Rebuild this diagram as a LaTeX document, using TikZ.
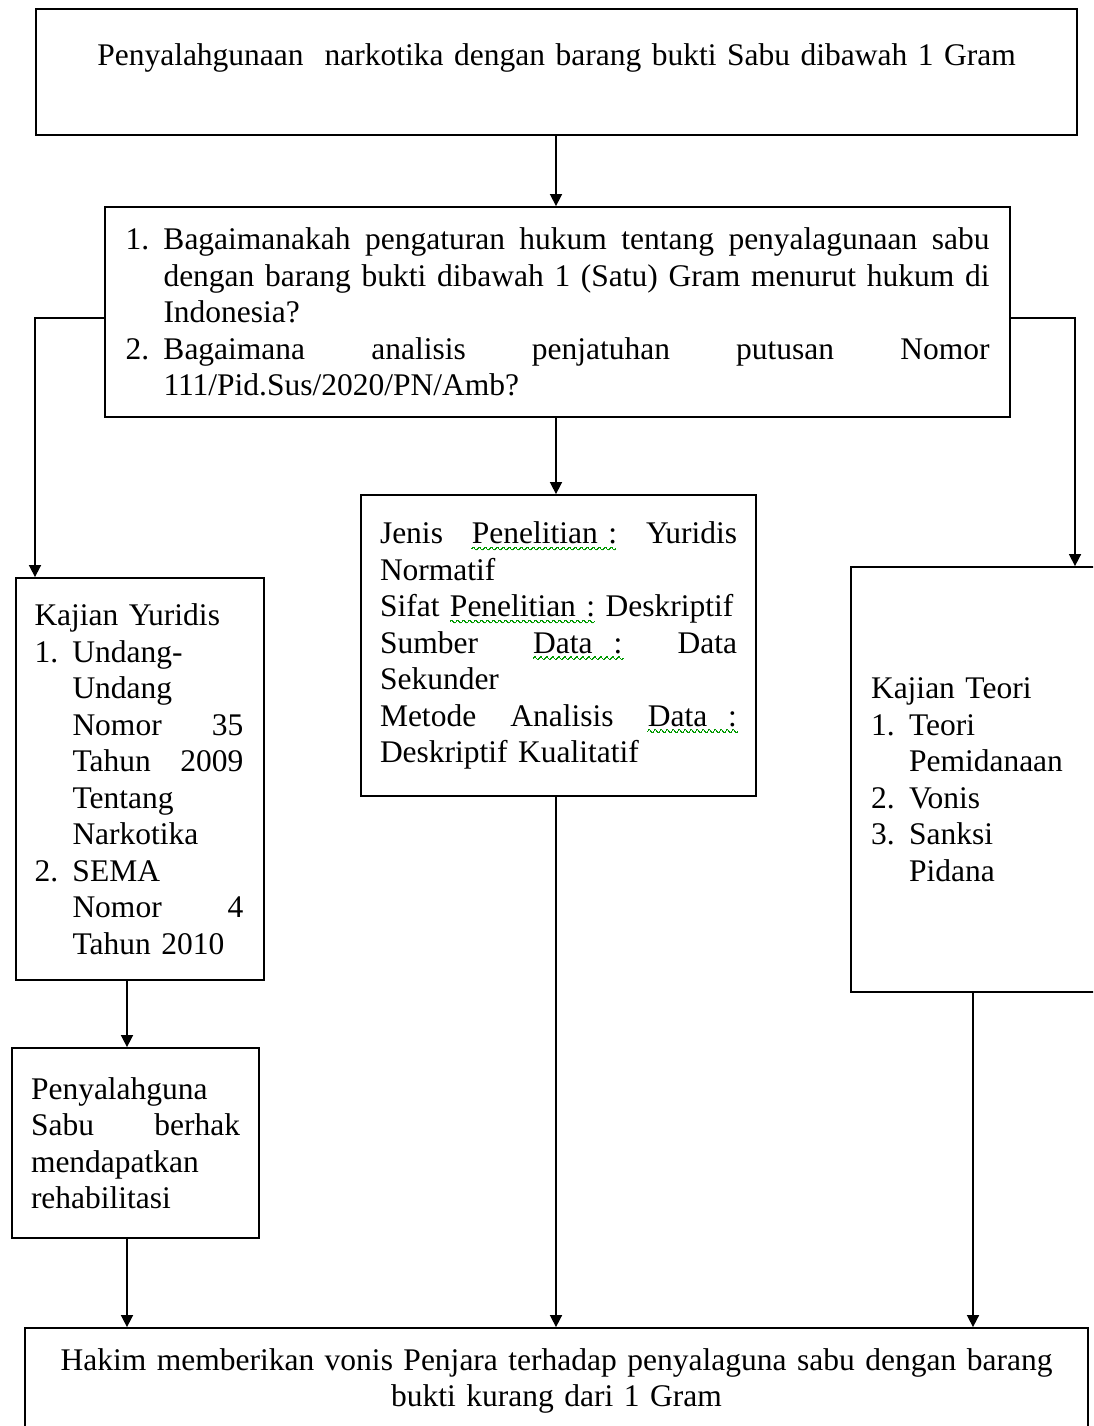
\documentclass[tikz,border=0pt]{standalone}
\usepackage{fontspec}
\setmainfont{Liberation Serif}
\usetikzlibrary{arrows.meta,calc}
\newcommand\gwave[1]{\setbox0=\hbox{#1}\leavevmode\rlap{\raisebox{-5pt}{\textcolor{green!60!black}{\setlength{\unitlength}{1pt}\linethickness{0.9pt}\begin{picture}(0,0)\multiput(0,0)(6,0){\numexpr\wd0/393216\relax}{\qbezier(0,0)(1.5,2.5)(3,0)\qbezier(3,0)(4.5,-2.5)(6,0)}\end{picture}}}}\box0\relax}
\newcommand\jl[2]{\leavevmode\hbox to #1{#2}}
\newcommand\hind{\hspace*{38pt}}
\newcommand\numb[1]{\makebox[38pt][l]{#1}}
\begin{document}
\begin{tikzpicture}[x=1pt,y=-1pt,
  box/.style={draw=black, line width=1.8pt, rectangle, inner ysep=0pt,
    font=\fontsize{31.5}{36.5}\selectfont, text=black},
  arr/.style={draw=black, line width=1.6pt, -{Triangle[width=12pt,length=12pt]}}]
\useasboundingbox (0,0) rectangle (1093,1426);
\clip (0,0) rectangle (1093,1426);
\fill[white] (0,0) rectangle (1093,1426);

\coordinate (xM) at (556,0);
\coordinate (xL) at (127,0);
\coordinate (xR) at (973,0);
\coordinate (xLL) at (35,0);
\coordinate (xRR) at (1075,0);
\coordinate (yq) at (0,318);

\node[box, minimum width=1041pt, minimum height=126pt, text width=1000pt, align=center]
  (top) at (556.5,72) {Penyalahgunaan\ \ narkotika dengan barang bukti Sabu dibawah 1 Gram\\[-12pt] \strut};

\node[box, minimum height=210pt, text width=864pt, inner xsep=20.5pt, align=left]
  (q) at (557.5,312) {%
  \numb{1.}\jl{826pt}{Bagaimanakah\hfill pengaturan\hfill hukum\hfill tentang\hfill penyalagunaan\hfill sabu}\\
  \hind\jl{826pt}{dengan\hfill barang\hfill bukti\hfill dibawah\hfill 1\hfill (Satu)\hfill Gram\hfill menurut\hfill hukum\hfill di}\\
  \hind Indonesia?\\
  \numb{2.}\jl{826pt}{Bagaimana\hfill analisis\hfill penjatuhan\hfill putusan\hfill Nomor}\\
  \hind 111/Pid.Sus/2020/PN/Amb?};

\node[box, minimum height=301pt, text width=357pt, inner xsep=19pt, align=left]
  (mid) at (558.5,645.5) {%
  \jl{357pt}{Jenis\hfill \gwave{Penelitian :}\hfill Yuridis}\\
  Normatif\\
  Sifat \gwave{Penelitian :} Deskriptif\\
  \jl{357pt}{Sumber\hfill \gwave{Data\ \ :}\hfill Data}\\
  Sekunder\\
  \jl{357pt}{Metode\hfill Analisis\hfill \gwave{Data\ \ :}}\\
  Deskriptif Kualitatif};

\node[box, minimum height=402pt, text width=211pt, inner xsep=18.5pt, align=left]
  (ky) at (140,779) {%
  Kajian Yuridis\\
  \numb{1.}Undang-\\
  \hind Undang\\
  \hind\jl{171pt}{Nomor\hfill 35}\\
  \hind\jl{171pt}{Tahun\hfill 2009}\\
  \hind Tentang\\
  \hind Narkotika\\
  \numb{2.}SEMA\\
  \hind\jl{171pt}{Nomor\hfill 4}\\
  \hind Tahun 2010};

\node[box, minimum height=190pt, text width=209pt, inner xsep=19pt, align=left]
  (pen) at (135.5,1143) {%
  Penyalahguna\\
  \jl{209pt}{Sabu\hfill berhak}\\
  mendapatkan\\
  rehabilitasi};

\node[box, minimum height=425pt, text width=220pt, inner xsep=20pt, align=left]
  (kt) at (981,779.5) {%
  Kajian Teori\\
  \numb{1.}Teori\\
  \hind Pemidanaan\\
  \numb{2.}Vonis\\
  \numb{3.}Sanksi\\
  \hind Pidana};

\node[box, minimum width=1063pt, minimum height=106pt, text width=1010pt, align=center]
  (bot) at (556.5,1381) {Hakim memberikan vonis Penjara terhadap penyalaguna sabu dengan barang\\ bukti kurang dari 1 Gram};

\draw[arr] (top.south -| xM) -- (q.north -| xM);
\draw[arr] (q.south -| xM) -- (mid.north -| xM);
\draw[arr] (q.west |- yq) -| (ky.north -| xLL);
\draw[arr] (q.east |- yq) -| (kt.north -| xRR);
\draw[arr] (ky.south -| xL) -- (pen.north -| xL);
\draw[arr] (pen.south -| xL) -- (bot.north -| xL);
\draw[arr] (mid.south -| xM) -- (bot.north -| xM);
\draw[arr] (kt.south -| xR) -- (bot.north -| xR);
\end{tikzpicture}
\end{document}
